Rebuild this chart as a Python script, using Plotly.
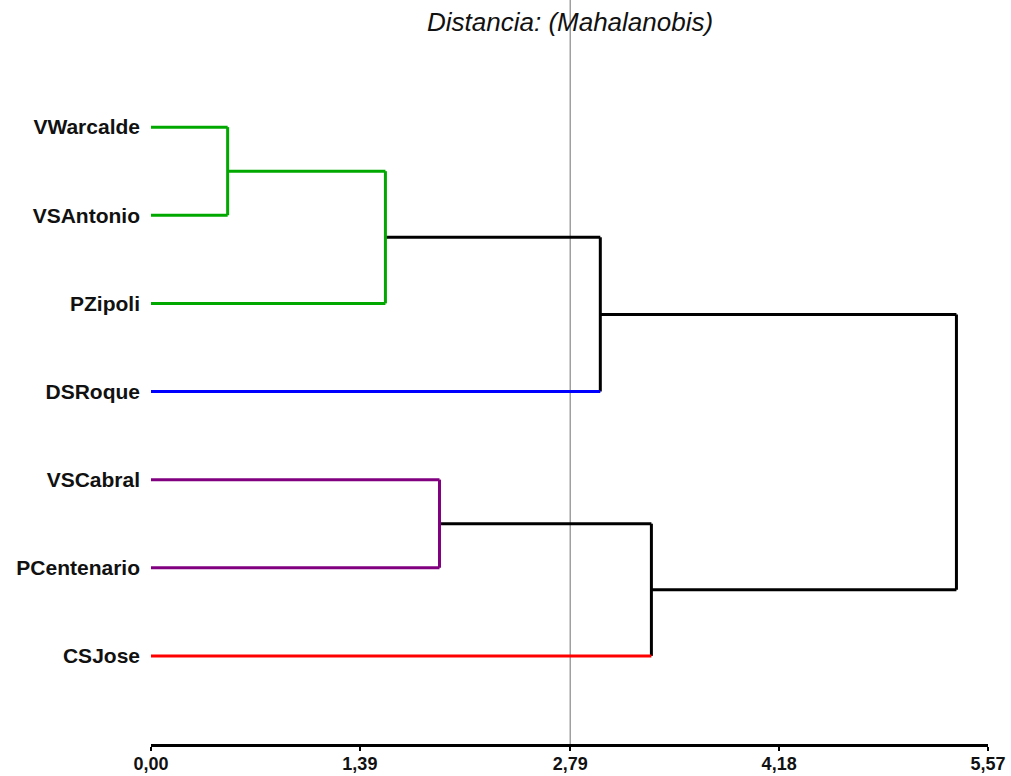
import plotly.graph_objects as go

# Leaves, top to bottom, with their cluster colours
leaves = ["VWarcalde", "VSAntonio", "PZipoli", "DSRoque", "VSCabral", "PCentenario", "CSJose"]
leaf_colors = ["#00A800", "#00A800", "#00A800", "#0000FF", "#800080", "#800080", "#FF0000"]

# Agglomeration steps: (child a, child b, distance); ids >= 7 refer to earlier steps
merges = [
    (0, 1, 0.51),
    (7, 2, 1.56),
    (8, 3, 2.99),
    (4, 5, 1.92),
    (10, 6, 3.33),
    (9, 11, 5.36),
]
merge_colors = ["#00A800", "#00A800", "#000000", "#800080", "#000000", "#000000"]

tick_vals = [0.0, 1.39, 2.79, 4.18, 5.57]
tick_text = ["0,00", "1,39", "2,79", "4,18", "5,57"]
cut_level = 2.79

FONT = "Liberation Sans, Arial, sans-serif"
n = len(leaves)

# position (y index) and height of every node
node_y = {i: float(i) for i in range(n)}
node_h = {i: 0.0 for i in range(n)}
segments = {}  # colour -> (xs, ys)


def add_seg(color, x0, y0, x1, y1):
    xs, ys = segments.setdefault(color, ([], []))
    xs += [x0, x1, None]
    ys += [y0, y1, None]


for k, (a, b, h) in enumerate(merges):
    nid = n + k
    col = merge_colors[k]
    for c in (a, b):
        ccol = leaf_colors[c] if c < n else col
        add_seg(ccol, node_h[c], node_y[c], h, node_y[c])
    add_seg(col, h, node_y[a], h, node_y[b])
    node_y[nid] = (node_y[a] + node_y[b]) / 2
    node_h[nid] = h

fig = go.Figure()
# black links first, coloured leaves on top
order = sorted(segments, key=lambda c: 0 if c == "#000000" else 1)
for col in order:
    xs, ys = segments[col]
    fig.add_trace(go.Scatter(
        x=xs, y=ys, mode="lines",
        line=dict(color=col, width=3),
        hoverinfo="skip", showlegend=False, cliponaxis=False,
    ))

# cut level reference line
fig.add_shape(type="line", xref="x", yref="paper", x0=cut_level, x1=cut_level,
              y0=0, y1=1.06, line=dict(color="#A0A0A0", width=1.5), layer="below")

fig.add_annotation(xref="x", yref="paper", x=cut_level, y=1.024, yanchor="middle",
                   text="<i>Distancia: (Mahalanobis)</i>", showarrow=False,
                   font=dict(family=FONT, size=26, color="#111111"))

fig.update_layout(
    width=1011, height=776,
    margin=dict(l=151, r=23, t=39, b=32),
    plot_bgcolor="white", paper_bgcolor="white",
    xaxis=dict(
        range=[0, 5.57], showgrid=False, zeroline=False, automargin=False,
        showline=True, linecolor="black", linewidth=3,
        ticks="outside", ticklen=4, tickwidth=2, tickcolor="black",
        tickvals=tick_vals, ticktext=["<b>%s</b>" % t for t in tick_text],
        tickfont=dict(family=FONT, size=18, color="#111111"),
        ticklabelstandoff=-3,
    ),
    yaxis=dict(
        range=[7, -1], showgrid=False, zeroline=False, showline=False, automargin=False,
        tickvals=list(range(n)), ticktext=["<b>%s</b>" % s for s in leaves],
        tickfont=dict(family=FONT, size=21, color="#111111"),
        ticks="", ticklabelstandoff=10,
    ),
)

fig.write_html("out.html")
